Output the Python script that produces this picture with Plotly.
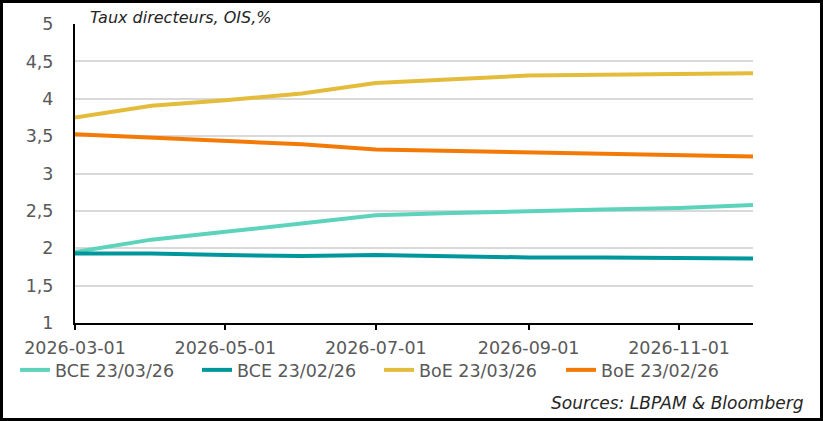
import plotly.graph_objects as go

dates = ["2026-03-01", "2026-04-01", "2026-05-01", "2026-06-01", "2026-07-01",
         "2026-08-01", "2026-09-01", "2026-10-01", "2026-11-01", "2026-12-01"]
bce_2303 = [1.95, 2.115, 2.22, 2.33, 2.44, 2.47, 2.50, 2.52, 2.54, 2.58]
bce_2302 = [1.93, 1.93, 1.91, 1.895, 1.91, 1.89, 1.877, 1.877, 1.877, 1.864]
boe_2303 = [3.75, 3.905, 3.98, 4.07, 4.21, 4.26, 4.31, 4.32, 4.33, 4.34]
boe_2302 = [3.525, 3.48, 3.43, 3.39, 3.32, 3.30, 3.285, 3.265, 3.245, 3.228]

series = [
    ("BCE 23/03/26", bce_2303, "#5ED3BB"),
    ("BCE 23/02/26", bce_2302, "#00979C"),
    ("BoE 23/03/26", boe_2303, "#E4BC3C"),
    ("BoE 23/02/26", boe_2302, "#F47A08"),
]

W, H = 823, 421
ML, MR, MT, MB = 75, 70, 24, 98
PW, PH = W - ML - MR, H - MT - MB

FONT = "DejaVu Sans"
GREY = "#595959"


def px_x(p):
    return (p - ML) / PW


def px_y(p):
    return (H - MB - p) / PH


fig = go.Figure()
for name, vals, col in series:
    fig.add_trace(go.Scatter(x=dates, y=vals, name=name, mode="lines",
                             line=dict(color=col, width=4)))

fig.update_layout(
    width=W, height=H,
    margin=dict(l=ML, r=MR, t=MT, b=MB, autoexpand=False),
    paper_bgcolor="white", plot_bgcolor="white",
    separators=", ",
    font=dict(family=FONT, size=17, color=GREY),
    showlegend=True,
    legend=dict(orientation="h", x=px_x(15), xanchor="left",
                y=px_y(352), yanchor="top",
                font=dict(family=FONT, size=17.5, color=GREY),
                entrywidth=137, entrywidthmode="pixels",
                bgcolor="rgba(0,0,0,0)", traceorder="normal"),
    xaxis=dict(type="date", range=["2026-03-01", "2026-12-01"],
               tick0="2026-03-01", dtick="M2", tickformat="%Y-%m-%d",
               showgrid=False, showline=True, linecolor="black", linewidth=2,
               ticks="outside", ticklen=5, tickwidth=2, tickcolor="black",
               ticklabelstandoff=3,
               tickfont=dict(family=FONT, size=17.5, color=GREY),
               zeroline=False),
    yaxis=dict(range=[1, 5], dtick=0.5, tick0=1,
               showgrid=True, gridcolor="#D9D9D9", gridwidth=1.5,
               showline=True, linecolor="black", linewidth=2,
               ticks="", ticklabelstandoff=16,
               tickfont=dict(family=FONT, size=17.5, color=GREY),
               zeroline=False),
)

fig.add_annotation(text="Taux directeurs, OIS,%", xref="paper", yref="paper",
                   x=px_x(88), y=px_y(17), xanchor="left", yanchor="middle",
                   showarrow=False,
                   font=dict(family=FONT, size=16, color="#262626", style="italic"))
fig.add_annotation(text="Sources: LBPAM & Bloomberg", xref="paper", yref="paper",
                   x=px_x(806), y=px_y(403), xanchor="right", yanchor="middle",
                   showarrow=False,
                   font=dict(family=FONT, size=17, color="#262626", style="italic"))

# frame around the whole image
fig.add_shape(type="rect", xref="paper", yref="paper",
              x0=px_x(1.5), x1=px_x(W - 1.5),
              y0=px_y(H - 1.5), y1=px_y(1.5),
              line=dict(color="black", width=3), layer="above")

fig.write_html("out.html", config={"displayModeBar": False},
               post_script="document.body.style.margin='0px';")
